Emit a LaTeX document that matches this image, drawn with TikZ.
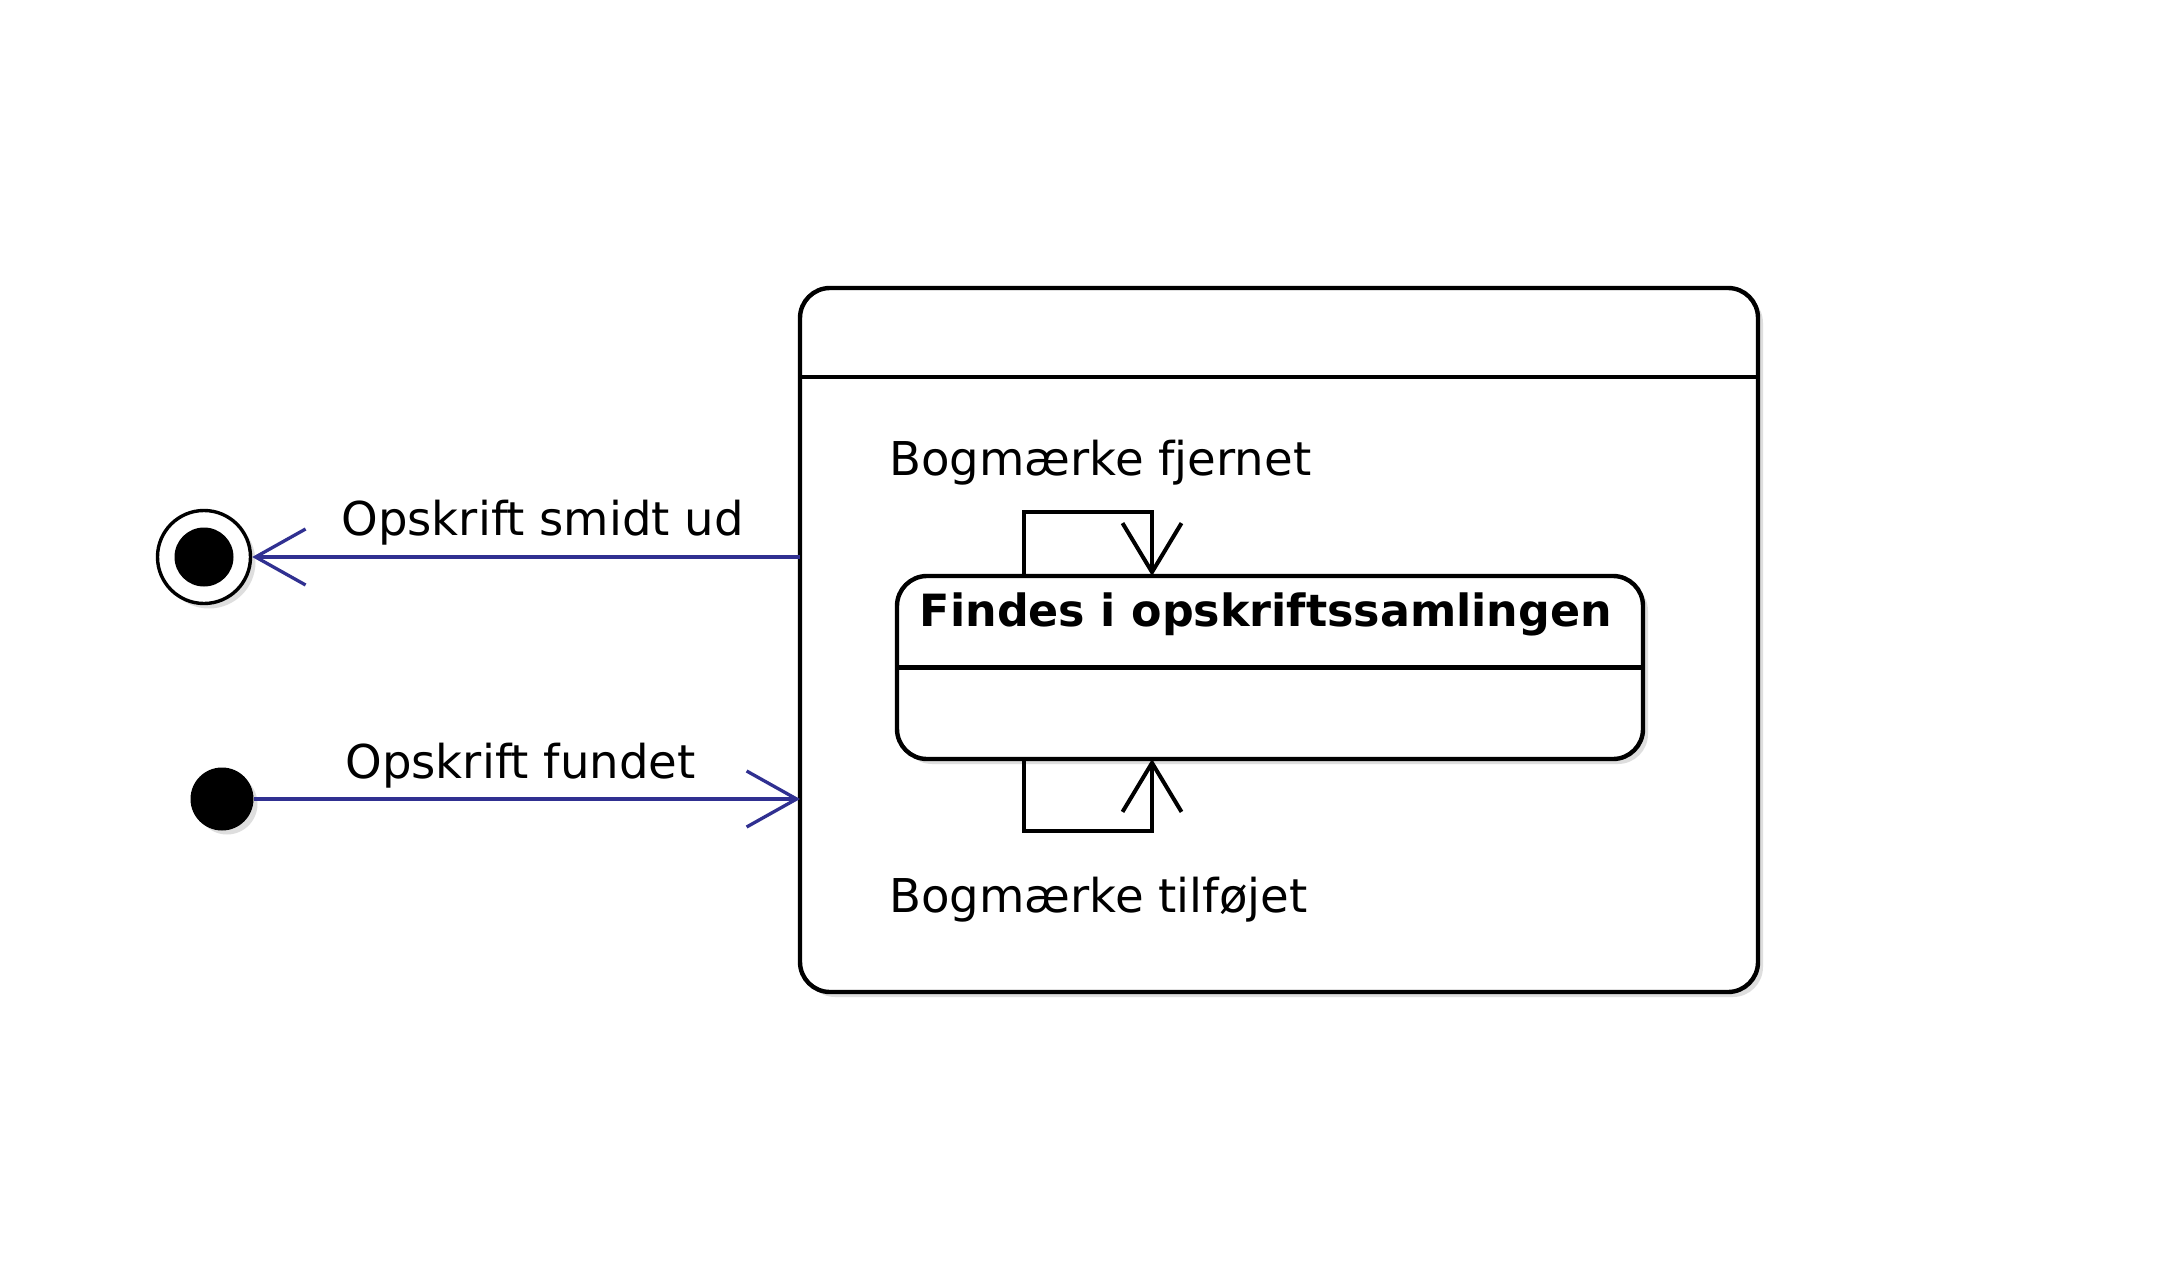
\documentclass[tikz,border=0pt]{standalone}
\usepackage{fontspec}
\setmainfont{DejaVu Sans}
\usetikzlibrary{arrows.meta,fit,shadows,calc}
\definecolor{transblue}{RGB}{48,48,145}
\begin{document}
\begin{tikzpicture}[x=0.5bp,y=-0.5bp,
  shad/.style={drop shadow={shadow xshift=2.5bp,shadow yshift=-2.5bp,fill=black!25}},
  box/.style={draw=black,line width=2.2bp,fill=white,rounded corners=15bp,inner sep=0pt,outer sep=0pt,shad},
  lbl/.style={inner sep=0pt,anchor=base west,font=\fontsize{23.3bp}{28bp}\selectfont},
  trans/.style={draw=transblue,line width=1.65bp,-{Straight Barb[length=25bp,width=28bp]}},
  selfloop/.style={draw=black,line width=2bp,-{Straight Barb[length=24.5bp,width=29.5bp]}},
]
\useasboundingbox (0,0) rectangle (2176,1280);
\fill[white] (0,0) rectangle (2176,1280);

% composite state
\node[box, fit={(800,288)(1758,992)}] (outer) {};
\draw[line width=2.2bp] ([yshift=-44.5bp]outer.north west) -- ([yshift=-44.5bp]outer.north east);

% inner state
\node[box, fit={(897,576)(1643,759)}] (state) {};
\draw[line width=2.2bp] (state.west) -- (state.east);
\node[font=\bfseries\fontsize{22.2bp}{27bp}\selectfont, inner sep=0pt, anchor=base] (title) at (1266,626) {Findes i opskriftssamlingen};

% final state
\node[circle, draw, line width=1.7bp, fill=white, minimum size=46.5bp, inner sep=0pt, shad] (final) at (204,557) {};
\node[circle, fill=black, minimum size=29.5bp, inner sep=0pt] (finaldot) at (final) {};

% initial state
\node[circle, fill=black, draw, line width=1bp, minimum size=30.5bp, inner sep=0pt, shad] (init) at (222,799) {};

% transitions
\draw[trans] (outer.west |- final) -- (final);
\draw[trans] (init) -- (init -| outer.west);

\draw[selfloop] ([xshift=63.5bp]state.north west) -- ++(0,-64) -| ([xshift=127.5bp]state.north west);
\draw[selfloop] ([xshift=63.5bp]state.south west) -- ++(0,72) -| ([xshift=127.5bp]state.south west);

% labels
\node[lbl] (l1) at (341,535) {Opskrift smidt ud};
\node[lbl] (l2) at (345,778.5) {Opskrift fundet};
\node[lbl] (l3) at (889,475.5) {Bogmærke fjernet};
\node[lbl] (l4) at (889,912) {Bogmærke tilføjet};
\end{tikzpicture}
\end{document}
